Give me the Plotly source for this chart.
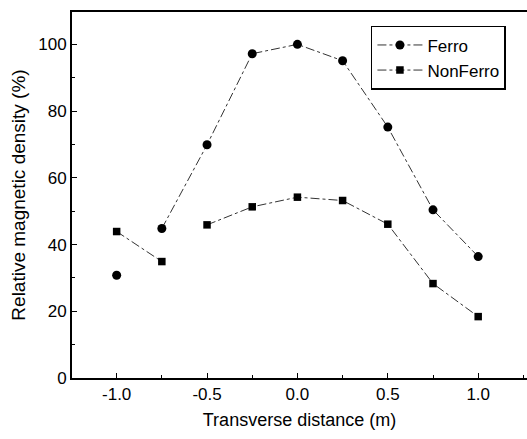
import plotly.graph_objects as go

x_vals = [-1.0, -0.75, -0.5, -0.25, 0.0, 0.25, 0.5, 0.75, 1.0]
ferro = [30.8, 44.8, 69.9, 97.2, 100.0, 95.1, 75.2, 50.4, 36.4]
nonferro = [43.9, 34.9, 45.9, 51.3, 54.2, 53.2, 46.1, 28.3, 18.4]
# index after which the connecting line is absent
ferro_break = 0
nonferro_break = 1

def with_gap(xs, ys, k):
    return xs[:k + 1] + [None] + xs[k + 1:], ys[:k + 1] + [None] + ys[k + 1:]

FONT = "Arial, Liberation Sans, sans-serif"
fig = go.Figure()
fx, fy = with_gap(x_vals, ferro, ferro_break)
nx, ny = with_gap(x_vals, nonferro, nonferro_break)
fig.add_trace(go.Scatter(x=fx, y=fy, name="Ferro", mode="lines+markers",
                         line=dict(color="#333", width=1, dash="dashdot"),
                         marker=dict(symbol="circle", size=9, color="black"),
                         connectgaps=False))
fig.add_trace(go.Scatter(x=nx, y=ny, name="NonFerro", mode="lines+markers",
                         line=dict(color="#333", width=1, dash="dashdot"),
                         marker=dict(symbol="square", size=7.5, color="black"),
                         connectgaps=False))

fig.update_layout(
    width=527, height=439,
    margin=dict(l=72, r=0, t=12, b=61),
    paper_bgcolor="white", plot_bgcolor="white",
    font=dict(family=FONT, size=16, color="black"),
    showlegend=True,
    legend=dict(x=0.657, y=0.962, xanchor="left", yanchor="top",
                bordercolor="black", borderwidth=1.5, bgcolor="white",
                font=dict(size=17, family=FONT), tracegroupgap=0,
                itemwidth=45),
    xaxis=dict(range=[-1.247, 1.27], tickvals=[-1.0, -0.5, 0.0, 0.5, 1.0],
               ticktext=["-1.0", "-0.5", "0.0", "0.5", "1.0"],
               ticks="inside", ticklen=5, tickwidth=1.2, tickcolor="black",
               minor=dict(dtick=0.25, tick0=0, ticks="inside", ticklen=3, tickwidth=1, tickcolor="black"),
               showline=True, linecolor="black", linewidth=2, mirror=True,
               showgrid=False, zeroline=False,
               tickfont=dict(size=17),
               title=dict(text="Transverse distance (m)", font=dict(size=18), standoff=10)),
    yaxis=dict(range=[0, 109.7], tickvals=[0, 20, 40, 60, 80, 100],
               ticks="inside", ticklen=5, tickwidth=1.2, tickcolor="black",
               minor=dict(dtick=10, tick0=0, ticks="inside", ticklen=3, tickwidth=1, tickcolor="black"),
               showline=True, linecolor="black", linewidth=2,
               showgrid=False, zeroline=False,
               tickfont=dict(size=17),
               title=dict(text="Relative magnetic density (%)", font=dict(size=19), standoff=8)),
)
fig.write_html("out.html")
